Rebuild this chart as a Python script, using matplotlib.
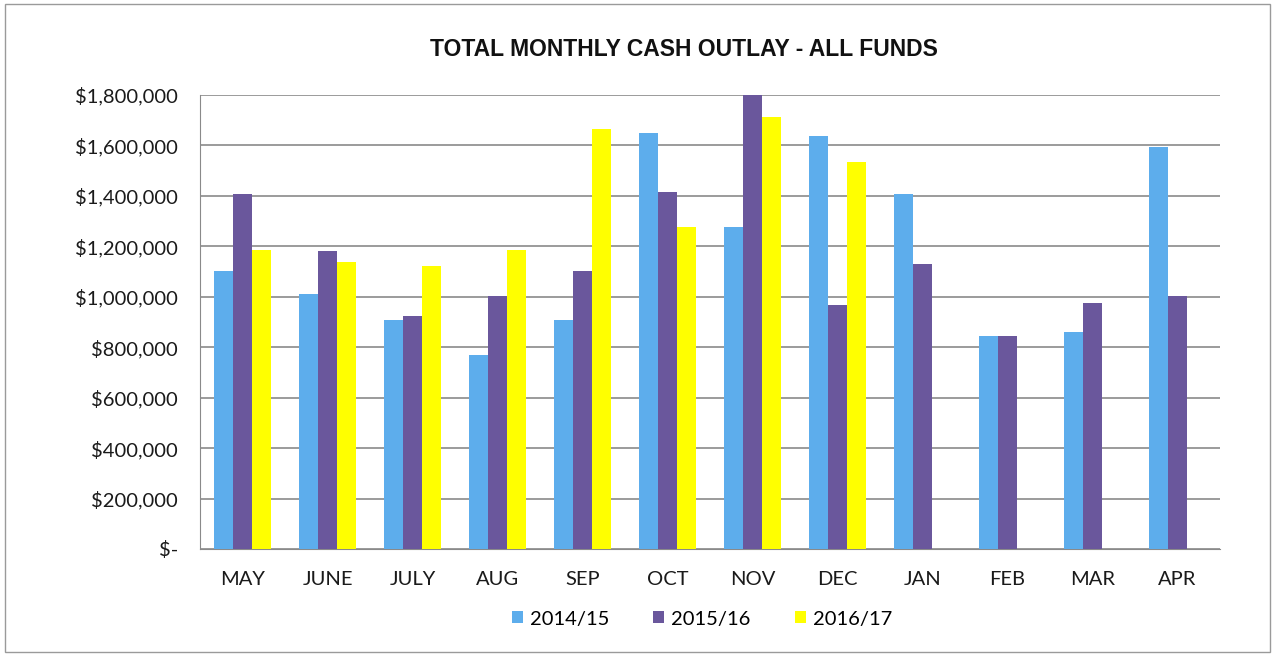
import matplotlib
matplotlib.use('Agg')
import matplotlib.pyplot as plt
import numpy as np
from matplotlib.ticker import FuncFormatter

# Datos
meses = ["MAY", "JUNE", "JULY", "AUG", "SEP", "OCT", "NOV", "DEC", "JAN", "FEB", "MAR", "APR"]
series = ["2014/15", "2015/16", "2016/17"]
v_2014 = [1102000, 1012000, 909000, 771000, 909000, 1648000, 1277000, 1637000, 1406000, 846000, 859000, 1594000]
v_2015 = [1409000, 1181000, 922000, 1005000, 1104000, 1416000, 1800000, 969000, 1131000, 846000, 975000, 1005000]
v_2016 = [1184000, 1138000, 1124000, 1184000, 1667000, 1277000, 1711000, 1535000, np.nan, np.nan, np.nan, np.nan]
colores = ["#5DADEC", "#6A579C", "#FFFF00"]

plt.rcParams['font.family'] = ['Lato', 'DejaVu Sans']

fig = plt.figure(figsize=(12.75, 6.56), dpi=100)
ax = fig.add_axes([200 / 1275, 107 / 656, 1020 / 1275, 454 / 656])

x = np.arange(len(meses))
ancho = 0.225
for i, (vals, nombre, col) in enumerate(zip([v_2014, v_2015, v_2016], series, colores)):
    ax.bar(x + (i - 1) * ancho, vals, width=ancho, color=col, label=nombre, zorder=3)

ax.set_xlim(-0.5, len(meses) - 0.5)
ax.set_ylim(0, 1800000)
ax.set_yticks(np.arange(0, 1800001, 200000))
ax.yaxis.set_major_formatter(FuncFormatter(lambda v, p: "$-" if v == 0 else f"${v:,.0f}"))
ax.set_xticks(x)
ax.set_xticklabels(meses)
ax.tick_params(axis='both', labelsize=14.5, colors='#1a1a1a', length=0)
ax.tick_params(axis='x', pad=16)
ax.tick_params(axis='y', pad=16)

ax.grid(axis='y', color='#8a8a8a', linewidth=1.2, zorder=0)
for s in ['top', 'right']:
    ax.spines[s].set_visible(False)
ax.spines['left'].set_color('#8a8a8a')
ax.spines['bottom'].set_color('#8a8a8a')

fig.text(684 / 1275, 1 - 50 / 656, "TOTAL MONTHLY CASH OUTLAY - ALL FUNDS", ha='center', va='center',
         fontsize=16.5, fontweight='bold', family=['Liberation Sans', 'DejaVu Sans'], color='#111111')

fig.legend(loc='center', bbox_to_anchor=(702 / 1275, 1 - 619 / 656), ncol=3, frameon=False,
           fontsize=14.5, handlelength=0.55, handleheight=0.55, handletextpad=0.35, columnspacing=2.2)

# marco del escaneo
fig.patches.append(plt.Rectangle((0.004, 0.006), 0.992, 0.988, transform=fig.transFigure,
                                 fill=False, edgecolor='#9a9a9a', linewidth=1))

fig.savefig("out.png", dpi=100)
